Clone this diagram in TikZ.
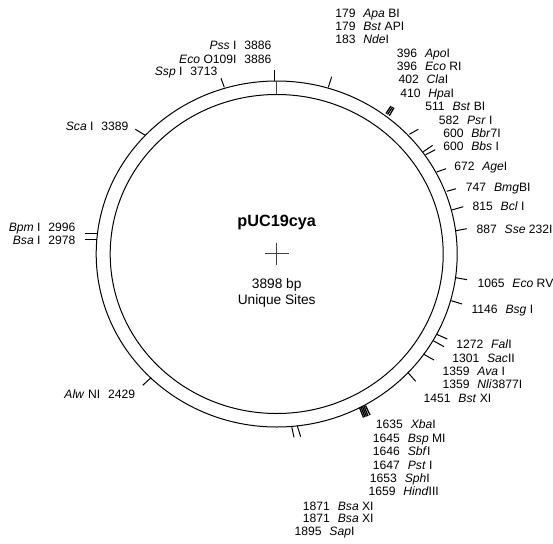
\documentclass[tikz,border=0pt]{standalone}
\usepackage{fontspec}
\setmainfont{Liberation Sans}
\usetikzlibrary{positioning}
\tikzset{
  ring/.style   = {draw, line width=0.75pt},
  site/.style   = {line width=0.75pt},
  rlabel/.style = {anchor=base west, inner sep=0pt, font=\fontsize{9.1}{10}\selectfont},
  llabel/.style = {anchor=base east, inner sep=0pt, font=\fontsize{9.1}{10}\selectfont},
  clabel/.style = {anchor=base, inner sep=0pt, font=\fontsize{10.3}{12}\selectfont}
}
\newcommand{\en}[1]{\textit{#1}}
\newcommand{\gapp}{\hspace{0.65em}}

\begin{document}
\begin{tikzpicture}[x=0.75pt, y=-0.75pt]
        \useasboundingbox (0,0) rectangle (553,543);
        % plasmid rings
        \draw[ring] (276.7,254) ellipse [x radius=180.5, y radius=173];
        \draw[ring] (276.7,254) ellipse [x radius=166.5, y radius=159.5];
        \draw[site, black!75] (276.7,80.5) -- (276.7,94);
        \draw[site, black!75] (265.3,253.3) -- (288.7,253.3);
        \draw[site, black!75] (276.7,242.7) -- (276.7,265);
        % right side sites
        \draw[site] (328.3,87.3) -- (331.7,76.7);
        \draw[site, line width=1pt] (386,113.5) -- (391,106);
        \draw[site, line width=1pt] (387.5,114.5) -- (392.5,107);
        \draw[site, line width=1pt] (389.3,115.7) -- (394,107.7);
        \draw[site] (409.3,134.3) -- (418.3,129.3);
        \draw[site] (423.3,151.7) -- (432.7,145.3);
        \draw[site] (425.7,154.7) -- (435.3,149.7);
        \draw[site] (436.7,172) -- (446,168.7);
        \draw[site] (446.7,191.3) -- (456,188.7);
        \draw[site] (451.7,210) -- (463.3,206.7);
        \draw[site] (456,230.7) -- (466.7,228.7);
        \draw[site] (456,277.7) -- (467,279.7);
        \draw[site] (451.3,300.7) -- (462,304);
        \draw[site] (436.7,334.3) -- (447.3,339);
        \draw[site] (433.3,340.7) -- (444,346.7);
        \draw[site] (423.3,354) -- (434,360);
        \draw[site] (407.7,372.3) -- (415.7,381.3);
        % bottom sites
        \draw[site, line width=1pt] (359.5,407.5) -- (363.5,417.5);
        \draw[site, line width=1pt] (361,407) -- (365,417);
        \draw[site, line width=1pt] (362.5,406.5) -- (366.5,416.5);
        \draw[site, line width=1pt] (364,406) -- (368,416);
        \draw[site, line width=1pt] (365.5,405.5) -- (370,415);
        \draw[site] (291.7,426.7) -- (294,437.3);
        \draw[site] (297.3,426) -- (300.7,436.7);
        % left side sites
        \draw[site] (274,70) -- (274,80.5);
        \draw[site] (221,78.3) -- (224.3,87.3);
        \draw[site] (135.3,129.3) -- (145.3,135.3);
        \draw[site] (85,233.3) -- (96.7,233.3);
        \draw[site] (85,239.3) -- (96.7,239.3);
        \draw[site] (142.7,385.3) -- (151,377.7);
        % centre text
        \node[clabel, font=\bfseries\fontsize{12.2}{14}\selectfont] (title) at (276.7,226.7) {pUC19cya};
        \node[clabel] (size) at (276.7,288) {3898 bp};
        \node[clabel] (unique) at (276.7,304) {Unique Sites};
        % right labels
        \node[rlabel] (apa) at (335,17.7) {179\gapp\en{Apa} BI};
        \node[rlabel] (bstap) at (335,30.7) {179\gapp\en{Bst} API};
        \node[rlabel] (nde) at (335,43.7) {183\gapp\en{Nde}I};
        \node[rlabel] (apo) at (396.7,57.3) {396\gapp\en{Apo}I};
        \node[rlabel] (ecori) at (396.7,70.7) {396\gapp\en{Eco} RI};
        \node[rlabel] (cla) at (398.3,83.7) {402\gapp\en{Cla}I};
        \node[rlabel] (hpa) at (400,97.7) {410\gapp\en{Hpa}I};
        \node[rlabel] (bstbi) at (425,110.7) {511\gapp\en{Bst} BI};
        \node[rlabel] (psr) at (438.7,124) {582\gapp\en{Psr} I};
        \node[rlabel] (bbr) at (443,137.7) {600\gapp\en{Bbr}7I};
        \node[rlabel] (bbs) at (443,150.7) {600\gapp\en{Bbs} I};
        \node[rlabel] (age) at (454,170) {672\gapp\en{Age}I};
        \node[rlabel] (bmg) at (465.7,191) {747\gapp\en{Bmg}BI};
        \node[rlabel] (bcl) at (472.3,210.7) {815\gapp\en{Bcl} I};
        \node[rlabel] (sse) at (476.3,233.3) {887\gapp\en{Sse} 232I};
        \node[rlabel] (ecorv) at (477.3,287.7) {1065\gapp\en{Eco} RV};
        \node[rlabel] (bsg) at (471.3,313) {1146\gapp\en{Bsg} I};
        \node[rlabel] (fal) at (456,348.7) {1272\gapp\en{Fal}I};
        \node[rlabel] (sac) at (452,362.3) {1301\gapp\en{Sac}II};
        \node[rlabel] (ava) at (442.3,375.7) {1359\gapp\en{Ava} I};
        \node[rlabel] (nli) at (442.3,388.7) {1359\gapp\en{Nli}3877I};
        \node[rlabel] (bstx) at (423.3,402.7) {1451\gapp\en{Bst} XI};
        % bottom labels
        \node[rlabel] (xba) at (375.7,428.7) {1635\gapp\en{Xba}I};
        \node[rlabel] (bsp) at (372.7,442.7) {1645\gapp\en{Bsp} MI};
        \node[rlabel] (sbf) at (372.7,455.7) {1646\gapp\en{Sbf}I};
        \node[rlabel] (pst) at (372.7,469) {1647\gapp\en{Pst} I};
        \node[rlabel] (sph) at (369.7,482.7) {1653\gapp\en{Sph}I};
        \node[rlabel] (hind) at (368.3,495.7) {1659\gapp\en{Hind}III};
        \node[rlabel] (bsaxa) at (302.7,510) {1871\gapp\en{Bsa} XI};
        \node[rlabel] (bsaxb) at (302.7,522.7) {1871\gapp\en{Bsa} XI};
        \node[rlabel] (sap) at (294.3,535.7) {1895\gapp\en{Sap}I};
        % left labels
        \node[llabel] (pss) at (271.7,49.7) {\en{Pss} I\gapp 3886};
        \node[llabel] (ecoo) at (271.7,63) {\en{Eco} O109I\gapp 3886};
        \node[llabel] (ssp) at (217.7,75.7) {\en{Ssp} I\gapp 3713};
        \node[llabel] (sca) at (128.7,130) {\en{Sca} I\gapp 3389};
        \node[llabel] (bpm) at (75.7,231) {\en{Bpm} I\gapp 2996};
        \node[llabel] (bsa) at (75.7,244.3) {\en{Bsa} I\gapp 2978};
        \node[llabel] (alw) at (135.3,398.7) {\en{Alw} NI\gapp 2429};
\end{tikzpicture}
\end{document}
